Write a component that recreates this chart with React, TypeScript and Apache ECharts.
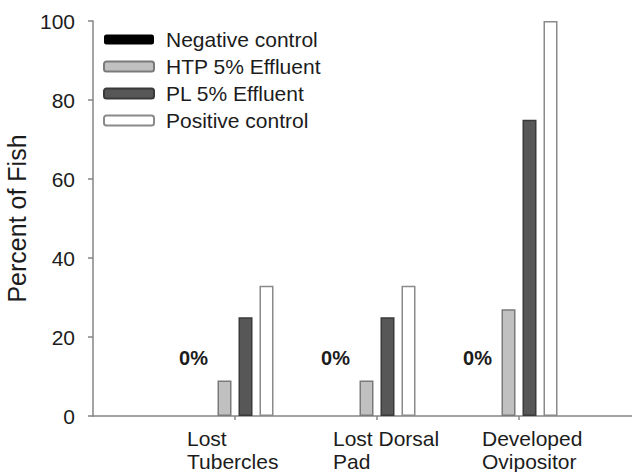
import React, { useEffect, useRef } from "react";
import * as echarts from "echarts";

const categories = ["", "Lost\nTubercles", "Lost Dorsal\nPad", "Developed\nOvipositor", ""];
const negativeControl = [null, 0, 0, 0, null];
const htpEffluent = [null, 9, 9, 27, null];
const plEffluent = [null, 25, 25, 75, null];
const positiveControl = [null, 33, 33, 100, null];
const yTicks = [0, 20, 40, 60, 80, 100];
const zeroLabel = "0%";

const FONT = "'Liberation Sans', Arial, sans-serif";
const TEXT = "#1c1c1c";
const AXIS = "#858585";

export default function App() {
  const ref = useRef<HTMLDivElement>(null);
  useEffect(() => {
    if (!ref.current) return;
    const chart = echarts.init(ref.current, null, { renderer: "svg" });
    const labelWidths = [0, 96, 88, 74, 0];
    const richStyle = (w: number) => ({
      width: w,
      align: "left",
      fontSize: 21,
      lineHeight: 23,
      color: TEXT,
      fontFamily: FONT,
    });
    chart.setOption({
      animation: false,
      backgroundColor: "#ffffff",
      textStyle: { fontFamily: FONT },
      grid: {
        left: 93,
        width: 568,
        top: 21,
        bottom: 56,
        containLabel: false,
        outerBoundsMode: "none",
      },
      legend: {
        orient: "vertical",
        left: 98,
        top: 24,
        itemWidth: 50,
        itemHeight: 10,
        itemGap: 6,
        textStyle: { fontFamily: FONT, fontSize: 21, color: TEXT, padding: [0, 0, 0, 7] },
        data: ["Negative control", "HTP 5% Effluent", "PL 5% Effluent", "Positive control"],
      },
      xAxis: {
        type: "category",
        data: categories,
        boundaryGap: false,
        axisLine: { lineStyle: { color: AXIS, width: 1.5 } },
        axisTick: {
          length: 4,
          lineStyle: { color: AXIS, width: 1.5 },
          interval: (i: number) => i >= 1 && i <= 3,
        },
        axisLabel: {
          interval: 0,
          margin: 11,
          fontFamily: FONT,
          fontSize: 21,
          color: TEXT,
          lineHeight: 23,
          formatter: (v: string, i: number) => {
            if (!v) return "";
            return v
              .split("\n")
              .map((line) => `{c${i}|${line}}`)
              .join("\n");
          },
          rich: {
            c1: richStyle(labelWidths[1]),
            c2: richStyle(labelWidths[2]),
            c3: richStyle(labelWidths[3]),
          },
        },
        splitLine: { show: false },
      },
      yAxis: {
        type: "value",
        min: yTicks[0],
        max: yTicks[yTicks.length - 1],
        interval: 20,
        name: "Percent of Fish",
        nameLocation: "middle",
        nameGap: 53,
        nameTextStyle: { fontFamily: FONT, fontSize: 25, color: TEXT },
        axisLine: { show: true, lineStyle: { color: AXIS, width: 1.5 } },
        axisTick: { show: true, length: 5, inside: false, lineStyle: { color: AXIS, width: 1.5 } },
        axisLabel: { margin: 18, fontFamily: FONT, fontSize: 21, color: TEXT },
        splitLine: { show: false },
      },
      series: [
        {
          name: "Negative control",
          type: "bar",
          data: negativeControl,
          barWidth: 14,
          barGap: "50%",
          itemStyle: { color: "#000000" },
          label: {
            show: true,
            position: "top",
            formatter: (p: any) => (p.value === 0 ? zeroLabel : ""),
            fontFamily: FONT,
            fontWeight: "bold",
            fontSize: 20,
            color: TEXT,
            offset: [-10, -43],
          },
        },
        {
          name: "HTP 5% Effluent",
          type: "bar",
          data: htpEffluent,
          barWidth: 14,
          barGap: "50%",
          itemStyle: { color: "#c0c0c0", borderColor: "#7a7a7a", borderWidth: 1.5 },
        },
        {
          name: "PL 5% Effluent",
          type: "bar",
          data: plEffluent,
          barWidth: 14,
          barGap: "50%",
          itemStyle: { color: "#575757", borderColor: "#3a3a3a", borderWidth: 1.5 },
        },
        {
          name: "Positive control",
          type: "bar",
          data: positiveControl,
          barWidth: 14,
          barGap: "50%",
          itemStyle: { color: "#ffffff", borderColor: "#8a8a8a", borderWidth: 1.5 },
        },
      ],
    });
    return () => chart.dispose();
  }, []);
  return (
    <div
      ref={ref}
      style={{ position: "fixed", left: 0, top: 0, width: 632, height: 472, background: "#fff" }}
    />
  );
}
